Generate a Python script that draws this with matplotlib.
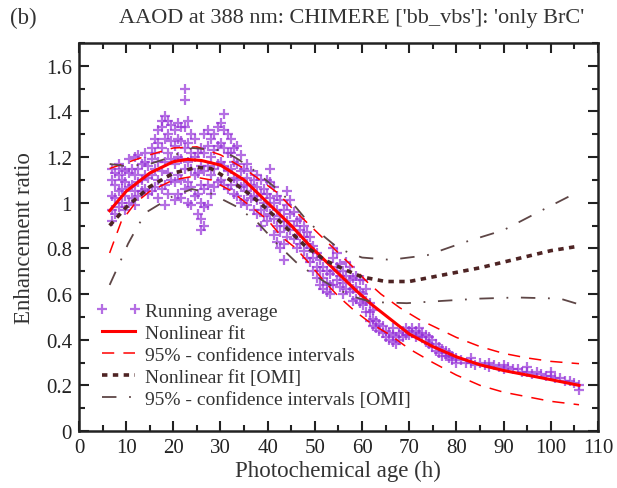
import matplotlib
matplotlib.use("Agg")
import matplotlib.pyplot as plt
from matplotlib.ticker import MultipleLocator, FormatStrFormatter

plt.rcParams['font.family'] = ['Liberation Serif', 'DejaVu Serif']

# running average points: age columns and the values seen in each column
col_age = [7.0, 7.7, 8.4, 9.1, 9.8, 10.5, 11.2, 11.9, 12.6, 13.3, 14.0, 14.7, 15.4, 16.1,
           16.8, 17.5, 18.2, 18.9, 19.6, 20.3, 21.0, 21.7, 22.4, 23.1, 23.8, 24.5, 25.2,
           25.9, 26.6, 27.3, 28.0, 28.7, 29.4, 30.1, 30.8, 31.5, 32.2, 32.9, 33.6, 34.3,
           35.0, 35.7, 36.4, 37.1, 37.8, 38.5, 39.2, 39.9, 40.6, 41.3, 42.0, 42.7, 43.4,
           44.1, 44.8, 45.5, 46.2, 46.9, 47.6, 48.3, 49.0, 49.7, 50.4, 51.1, 51.8, 52.5,
           53.2, 53.9, 54.6, 55.3, 56.0, 56.7, 57.4, 58.1, 58.8, 59.5, 60.2, 60.9, 61.6,
           62.3, 63.0, 63.7, 64.4, 65.1, 65.8, 66.5, 67.2, 67.9, 68.6, 69.3, 70.0, 70.7,
           71.4, 72.1, 72.8, 73.5, 74.2, 74.9, 75.6, 76.3, 77.0, 77.7, 78.4, 79.1, 80,
           81, 82, 83, 84, 85, 86, 87, 88, 89, 90, 91, 92, 93, 94, 95, 96, 97, 98, 99,
           100, 101, 102, 103, 104, 105, 106]
col_vals = [
    [0.92, 0.97, 1.03, 1.10, 1.15], [0.95, 1.02, 1.08, 1.13], [0.98, 1.05, 1.12, 1.17],
    [1.00, 1.06, 1.10, 1.15], [0.97, 1.03, 1.09, 1.14], [1.00, 1.07, 1.13, 1.19],
    [1.02, 1.08, 1.15], [0.99, 1.05, 1.12, 1.20], [1.03, 1.09, 1.15, 1.21],
    [1.05, 1.10, 1.17], [1.06, 1.12, 1.18, 1.22], [1.04, 1.11, 1.16],
    [1.05, 1.12, 1.19, 1.24], [1.07, 1.15, 1.22, 1.28], [1.02, 1.10, 1.18, 1.26, 1.32],
    [1.06, 1.14, 1.24, 1.33, 1.36], [0.99, 1.08, 1.18, 1.28, 1.38],
    [1.04, 1.13, 1.22, 1.30, 1.36], [1.10, 1.19, 1.27, 1.34],
    [1.01, 1.09, 1.17, 1.25, 1.32], [1.04, 1.12, 1.20, 1.28, 1.35],
    [1.02, 1.10, 1.19, 1.27, 1.33], [1.06, 1.15, 1.24, 1.33, 1.45, 1.50],
    [1.00, 1.09, 1.18, 1.26, 1.36], [0.99, 1.07, 1.15, 1.22, 1.30],
    [1.03, 1.12, 1.20, 1.28], [0.95, 1.04, 1.13, 1.22],
    [0.88, 0.93, 1.00, 1.08, 1.16, 1.24], [0.90, 0.98, 1.06, 1.14, 1.22, 1.30],
    [0.99, 1.08, 1.16, 1.25, 1.32], [1.04, 1.12, 1.20, 1.28], [1.07, 1.15, 1.23, 1.30],
    [1.09, 1.17, 1.25, 1.33], [1.10, 1.18, 1.26, 1.35], [1.08, 1.16, 1.24, 1.32, 1.39],
    [1.06, 1.14, 1.22, 1.30], [1.08, 1.15, 1.22, 1.28], [1.04, 1.11, 1.18, 1.24],
    [1.03, 1.10, 1.17, 1.25], [1.00, 1.07, 1.14, 1.21], [1.01, 1.08, 1.15],
    [0.99, 1.05, 1.11, 1.17], [1.02, 1.08, 1.14], [0.97, 1.03, 1.10],
    [0.95, 1.01, 1.07, 1.12], [0.90, 0.97, 1.04, 1.10], [0.94, 1.00, 1.06],
    [0.92, 0.98, 1.04, 1.10], [0.95, 1.02, 1.09, 1.15], [0.86, 0.93, 1.00, 1.07],
    [0.83, 0.90, 0.97, 1.03], [0.80, 0.87, 0.94, 1.01], [0.75, 0.82, 0.90, 0.97],
    [0.85, 0.92, 0.99, 1.05], [0.88, 0.95, 1.01], [0.84, 0.90, 0.96],
    [0.80, 0.86, 0.92], [0.82, 0.88, 0.93], [0.79, 0.85, 0.90], [0.76, 0.82, 0.87],
    [0.74, 0.80, 0.85], [0.70, 0.76, 0.81], [0.67, 0.72, 0.78], [0.64, 0.70, 0.75],
    [0.62, 0.67, 0.72], [0.61, 0.65, 0.70], [0.60, 0.64, 0.69], [0.64, 0.70, 0.76, 0.80],
    [0.66, 0.72, 0.78], [0.63, 0.68, 0.73], [0.60, 0.65, 0.70], [0.62, 0.68, 0.74],
    [0.61, 0.66, 0.72], [0.57, 0.62, 0.67], [0.58, 0.63, 0.68], [0.56, 0.61, 0.66],
    [0.55, 0.60, 0.66], [0.52, 0.57, 0.62], [0.48, 0.52, 0.56], [0.46, 0.49, 0.53],
    [0.45, 0.48], [0.44, 0.47], [0.43, 0.46], [0.41, 0.44], [0.40, 0.43],
    [0.39, 0.42, 0.45], [0.38, 0.41], [0.40, 0.43], [0.41, 0.44], [0.42, 0.45],
    [0.42, 0.44], [0.43, 0.45], [0.41, 0.44], [0.42, 0.45], [0.41, 0.43],
    [0.39, 0.42], [0.38, 0.41], [0.37, 0.40], [0.35, 0.38], [0.34, 0.37],
    [0.33, 0.36], [0.33, 0.35], [0.32, 0.34], [0.31, 0.33], [0.30, 0.32],
    [0.31], [0.30], [0.30, 0.32], [0.29], [0.30], [0.29], [0.28, 0.30], [0.29],
    [0.28], [0.27, 0.29], [0.28], [0.27], [0.27], [0.26], [0.26, 0.28], [0.25],
    [0.26], [0.25], [0.24], [0.24, 0.26], [0.23], [0.23], [0.22], [0.22], [0.21],
    [0.18, 0.20],
]

# nonlinear fit and 95% confidence intervals (model)
fit_age = [6.5, 10, 15, 20, 23, 26, 30, 35, 40, 45, 49, 52, 55, 58.5, 62, 66, 70, 75,
           80, 85, 90, 95, 100, 106]
fit_val = [0.965, 1.05, 1.13, 1.18, 1.19, 1.185, 1.165, 1.10, 1.00, 0.90, 0.81, 0.75,
           0.69, 0.62, 0.555, 0.49, 0.425, 0.37, 0.325, 0.29, 0.265, 0.245, 0.225, 0.20]
ci_hi_age = [6.5, 10, 15, 20, 25, 30, 35, 38.4, 42, 45, 48, 51, 54, 58, 61, 64, 68, 72,
             76, 80, 85, 90, 95, 100, 106]
ci_hi_val = [1.15, 1.175, 1.21, 1.24, 1.245, 1.21, 1.15, 1.10, 1.045, 0.98, 0.92, 0.86,
             0.80, 0.72, 0.655, 0.60, 0.54, 0.49, 0.45, 0.41, 0.37, 0.34, 0.32, 0.305,
             0.295]
ci_lo_age = [6.5, 9, 12, 15, 20, 24, 28, 32, 36, 40, 43, 46, 49, 52, 55, 58.5, 62, 66,
             70, 75, 80, 85, 90, 95, 100, 106]
ci_lo_val = [0.78, 0.92, 1.00, 1.05, 1.10, 1.115, 1.10, 1.055, 0.99, 0.925, 0.85, 0.80,
             0.73, 0.655, 0.59, 0.525, 0.47, 0.42, 0.36, 0.30, 0.245, 0.20, 0.17, 0.15,
             0.13, 0.115]

# nonlinear fit and 95% confidence intervals (OMI)
omi_age = [6.5, 10, 15, 20, 25, 28, 32, 36, 40, 44, 48, 52, 56, 60, 65, 70, 75, 80, 85,
           90, 95, 100, 106]
omi_val = [0.90, 0.98, 1.07, 1.13, 1.155, 1.15, 1.10, 1.04, 0.97, 0.89, 0.81, 0.75,
           0.71, 0.675, 0.655, 0.655, 0.675, 0.695, 0.715, 0.74, 0.765, 0.79, 0.81]
omi_hi_age = [6.5, 10, 15, 18, 24, 30, 33, 36, 42, 46, 48, 51.5, 55, 57.4, 60, 66, 73.8,
              81.4, 90, 97, 106]
omi_hi_val = [1.17, 1.16, 1.17, 1.19, 1.24, 1.23, 1.20, 1.16, 1.06, 0.98, 0.93, 0.86,
              0.80, 0.78, 0.76, 0.75, 0.77, 0.825, 0.88, 0.955, 1.05]
omi_lo_age = [6.5, 8.7, 10.4, 12.5, 14.4, 20, 24, 28, 33.7, 38, 42, 46, 50, 54, 58, 62,
              69.5, 77, 85, 92.8, 102, 106]
omi_lo_val = [0.64, 0.74, 0.82, 0.90, 0.96, 1.03, 1.06, 1.04, 0.98, 0.91, 0.82, 0.74,
              0.68, 0.63, 0.59, 0.565, 0.56, 0.57, 0.58, 0.585, 0.58, 0.555]

pts_x = []
pts_y = []
for a, vs in zip(col_age, col_vals):
    for v in vs:
        pts_x.append(a)
        pts_y.append(v)

fig = plt.figure(figsize=(6.17, 4.89), dpi=100)
ax = fig.add_axes([0.128, 0.1166, 0.841, 0.7934])

ax.plot(pts_x, pts_y, linestyle='none', marker='+', markersize=7.5, mew=1.6,
        color='#9430d8', alpha=0.7, label='Running average')
ax.plot(fit_age, fit_val, color='red', lw=2.2, label='Nonlinear fit')
ax.plot(ci_hi_age, ci_hi_val, color='red', lw=1.1, dashes=(8, 6),
        label='95% - confidence intervals')
ax.plot(ci_lo_age, ci_lo_val, color='red', lw=1.1, dashes=(8, 6))
ax.plot(omi_age, omi_val, color='#4e2424', lw=2.6, dashes=(1.5, 1.5),
        label='Nonlinear fit [OMI]')
ax.plot(omi_hi_age, omi_hi_val, color='#5e4646', lw=1.3, dashes=(8, 7, 1, 7),
        label='95% - confidence intervals [OMI]')
ax.plot(omi_lo_age, omi_lo_val, color='#5e4646', lw=1.3, dashes=(8, 7, 1, 7))

ax.set_xlim(0, 110)
ax.set_ylim(0, 1.7)
ax.xaxis.set_major_locator(MultipleLocator(10))
ax.xaxis.set_minor_locator(MultipleLocator(5))
ax.yaxis.set_major_locator(MultipleLocator(0.2))
ax.yaxis.set_minor_locator(MultipleLocator(0.1))
ax.yaxis.set_major_formatter(FormatStrFormatter('%g'))
ax.tick_params(which='both', direction='in', top=True, right=True, width=1.5,
               labelsize=15, colors='#222222', pad=5)
ax.tick_params(which='major', length=7)
ax.tick_params(which='minor', length=4)
for s in ax.spines.values():
    s.set_linewidth(1.8)
    s.set_color('#222222')

ax.set_xlabel('Photochemical age (h)', fontsize=16.5, color='#333333', labelpad=2)
ax.set_ylabel('Enhancement ratio', fontsize=16.5, color='#333333', labelpad=8)

fig.text(352 / 617, 1 - 18 / 489, "AAOD at 388 nm: CHIMERE ['bb_vbs']: 'only BrC'",
         ha='center', va='center', fontsize=16, color='#333333')
fig.text(10 / 617, 1 - 18 / 489, '(b)', ha='left', va='center', fontsize=16.5,
         color='#333333')

ax.legend(loc='lower left', bbox_to_anchor=(0.01, 0.03), frameon=False,
          fontsize=14, numpoints=2, handlelength=2.3, handletextpad=0.25,
          labelspacing=0.22, borderaxespad=0.2, labelcolor='#333333')

fig.savefig('out.png', dpi=100)
